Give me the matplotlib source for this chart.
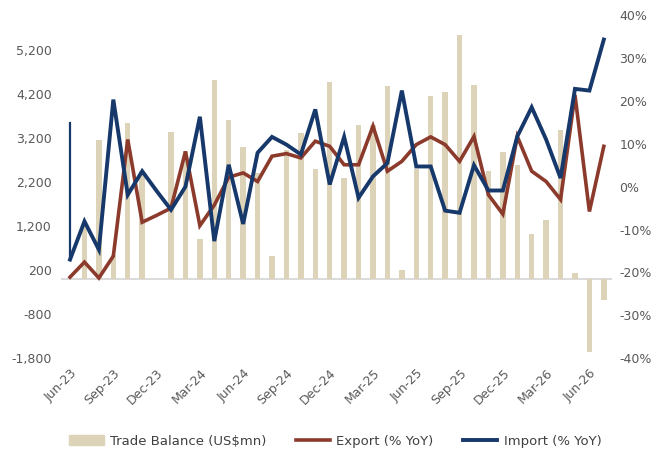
import numpy as np
import pandas as pd
import matplotlib.pyplot as plt
from matplotlib.patches import Patch
from matplotlib.lines import Line2D

# monthly, Jun-23 .. Jul-26
months = pd.date_range("2023-06-01", "2026-07-01", freq="MS").strftime("%b-%y").tolist()
tick_labels = ["Jun-23", "Sep-23", "Dec-23", "Mar-24", "Jun-24", "Sep-24", "Dec-24",
               "Mar-25", "Jun-25", "Sep-25", "Dec-25", "Mar-26", "Jun-26"]

trade_balance = [0, 1300, 3170, 550, 3540, 2450, 0, 3340, 2900, 920,
                 4520, 3610, 2990, 2400, 520, 2930, 3310, 2510, 4470, 2300,
                 3510, 3500, 4380, 210, 2500, 4150, 4250, 5540, 4400, 2460,
                 2880, 2590, 1020, 1330, 3380, 140, -1660, -480]

export_yoy = [-21.1, -17.6, -21.3, -16.2, 11.0, -8.3, -6.7, -5.0, 8.2, -9.1,
              -4.3, 2.2, 3.2, 1.2, 7.1, 7.7, 6.7, 10.6, 9.4, 5.1,
              5.1, 14.1, 3.6, 5.9, 9.8, 11.6, 9.8, 5.9, 11.7, -1.9,
              -6.4, 11.7, 3.6, 1.2, -3.0, 21.4, -5.8, 9.4]

import_open = 14.9  # odd vertical jump at the start of the import line
import_yoy = [-17.0, -8.1, -14.7, 20.3, -1.9, 3.6, -1.0, -5.4, 0.0, 16.3,
              -12.7, 5.1, -8.7, 7.9, 11.6, 9.8, 7.5, 18.0, 0.5, 11.6,
              -2.6, 2.4, 5.5, 22.4, 4.7, 4.7, -5.6, -6.1, 5.0, -0.9,
              -0.9, 11.7, 18.5, 11.0, 2.0, 22.8, 22.4, 34.3]

left_ticks = [-1800, -800, 200, 1200, 2200, 3200, 4200, 5200]
right_ticks = [-40, -30, -20, -10, 0, 10, 20, 30, 40]

BAR = "#DDD3B8"
RED = "#8B3A2C"
BLUE = "#16386B"
TXT = "#595959"

fig = plt.figure(figsize=(6.6, 4.58), dpi=100)
ax = fig.add_axes([0.093, 0.218, 0.835, 0.749])
x = np.arange(len(months))

ax.bar(x, trade_balance, width=0.38, color=BAR, zorder=1)
ax.axhline(0, color="#d4d4d4", lw=1.2, zorder=0.5)
ax.set_xlim(-0.6, len(months) - 0.4)
ax.set_ylim(-1800, 6000)
ax.set_yticks(left_ticks)
ax.set_yticklabels([f"{v:,}" for v in left_ticks])
ax.set_xticks(x[::3])
ax.set_xticklabels(tick_labels, rotation=45, ha="right", va="top", rotation_mode="anchor")
ax.tick_params(axis="both", length=0, labelsize=9, colors=TXT)
ax.tick_params(axis="x", pad=6)
ax.tick_params(axis="y", pad=7)
for s in ax.spines.values():
    s.set_visible(False)

ax2 = ax.twinx()
ax2.plot(x, export_yoy, color=RED, lw=2.6, solid_joinstyle="miter", zorder=2)
ax2.plot([x[0], x[0]], [import_open, import_yoy[0]], color=BLUE, lw=1.6, zorder=3)
ax2.plot(x, import_yoy, color=BLUE, lw=2.8, solid_joinstyle="miter", zorder=3)
ax2.set_ylim(-40, 40)
ax2.set_yticks(right_ticks)
ax2.set_yticklabels([f"{v}%" for v in right_ticks])
ax2.tick_params(axis="y", length=0, labelsize=9, colors=TXT, pad=5)
for s in ax2.spines.values():
    s.set_visible(False)

handles = [Patch(color=BAR), Line2D([], [], color=RED, lw=2.6), Line2D([], [], color=BLUE, lw=2.8)]
fig.legend(handles, ["Trade Balance (US$mn)", "Export (% YoY)", "Import (% YoY)"],
           loc="center", bbox_to_anchor=(0.508, 0.037), ncol=3, frameon=False,
           fontsize=9.5, handlelength=2.6, handletextpad=0.5, columnspacing=2.2,
           labelcolor="#404040")

fig.savefig("out.png", dpi=100)
